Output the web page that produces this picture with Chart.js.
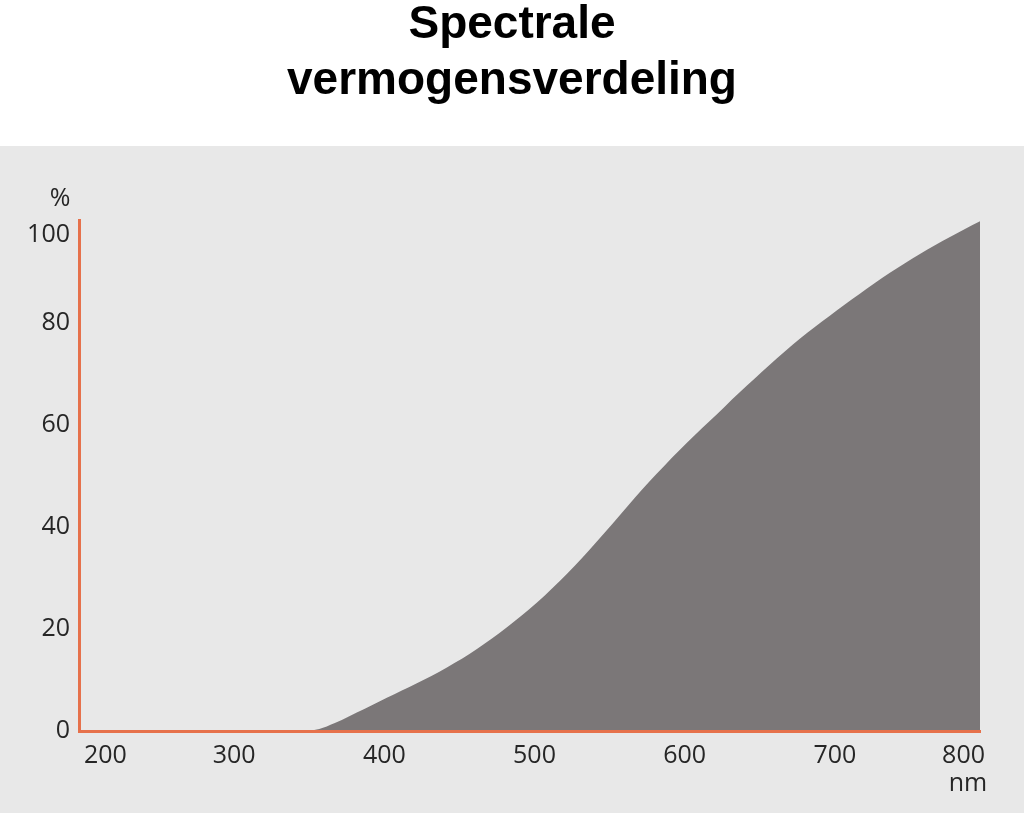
<!DOCTYPE html>
<html>
<head>
<meta charset="utf-8">
<script src="https://cdn.jsdelivr.net/npm/chart.js@4.4.1/dist/chart.umd.min.js"></script>
<style>
  html, body { margin: 0; padding: 0; background: #ffffff; }
  #wrap { width: 1024px; height: 813px; position: relative; }
</style>
</head>
<body>
<div id="wrap"><canvas id="c"></canvas></div>
<script>
// ---- data ----
const titleLines = ['Spectrale', 'vermogensverdeling'];
const wavelengths = [200, 350, 360, 370, 380, 390, 400, 410, 420, 430, 440, 450, 460, 470, 480, 490, 500,
  510, 520, 530, 540, 550, 560, 570, 580, 590, 600, 610, 620, 630, 640, 650, 660, 670, 680, 690, 700,
  710, 720, 730, 740, 750, 760, 770, 780, 790, 800];
const powerPercent = [0, 0, 0.4, 1.5, 2.9, 4.3, 5.8, 7.2, 8.6, 10.1, 11.6, 13.3, 15.1, 17.1, 19.2, 21.5, 23.9,
  26.5, 29.3, 32.3, 35.5, 38.8, 42.2, 45.6, 48.9, 52.0, 55.0, 57.9, 60.7, 63.5, 66.3, 69.0, 71.7, 74.3, 76.8, 79.1, 81.3,
  83.5, 85.6, 87.7, 89.7, 91.6, 93.4, 95.1, 96.7, 98.3, 99.8];
const xTicks = [200, 300, 400, 500, 600, 700, 800];
const yTicks = [0, 20, 40, 60, 80, 100];
const xUnit = 'nm';
const yUnit = '%';

const points = wavelengths.map((w, i) => ({ x: w, y: powerPercent[i] }));

const AXIS = '#e6714b';
const TEXT = '#262626';
const tickFont = { family: 'Open Sans', size: 25, weight: '400' };

const panelPlugin = {
  id: 'panel',
  beforeDraw(chart) {
    const { ctx, width, height } = chart;
    ctx.save();
    ctx.fillStyle = '#ffffff';
    ctx.fillRect(0, 0, width, height);
    ctx.fillStyle = '#e8e8e8';
    ctx.fillRect(0, 146, width, height - 146);
    ctx.restore();
  },
  afterDraw(chart) {
    const { ctx } = chart;
    const ys = chart.scales.y;
    const xs = chart.scales.x;
    ctx.save();
    ctx.fillStyle = TEXT;
    ctx.font = '400 25px "Open Sans"';
    ctx.textAlign = 'center';
    ctx.textBaseline = 'middle';
    ctx.fillText(yUnit, ys.right - 19, ys.top - 21);
    ctx.fillText(xUnit, xs.right - 12, xs.top + 53);
    ctx.restore();
  }
};

new Chart(document.getElementById('c'), {
  type: 'line',
  data: {
    datasets: [{
      data: points,
      borderWidth: 0,
      borderColor: 'rgba(0,0,0,0)',
      backgroundColor: '#7b7778',
      fill: 'origin',
      pointRadius: 0,
      cubicInterpolationMode: 'monotone'
    }]
  },
  options: {
    responsive: true,
    maintainAspectRatio: false,
    animation: false,
    layout: { padding: 0 },
    plugins: {
      legend: { display: false },
      tooltip: { enabled: false },
      title: {
        display: true,
        text: titleLines,
        color: '#000000',
        font: { family: 'Liberation Sans', size: 46, weight: 'bold', lineHeight: 1.22 },
        padding: { top: -3, bottom: 111 }
      }
    },
    scales: {
      x: {
        type: 'linear',
        min: 200,
        max: 800,
        afterBuildTicks(scale) { scale.ticks = xTicks.map(v => ({ value: v })); },
        afterFit(scale) { scale.height = 82; },
        grid: { display: false, drawTicks: false },
        border: { display: true, color: AXIS, width: 3, z: 1 },
        ticks: {
          color: TEXT,
          font: tickFont,
          padding: 10,
          align: 'inner',
          labelOffset: 5,
          maxRotation: 0,
          autoSkip: false,
          callback: (v) => String(v)
        }
      },
      y: {
        type: 'linear',
        min: 0,
        max: 100,
        afterBuildTicks(scale) { scale.ticks = yTicks.map(v => ({ value: v })); },
        afterFit(scale) { scale.width = 79; },
        grid: { display: false, drawTicks: false },
        border: { display: true, color: AXIS, width: 3, z: 1 },
        ticks: {
          color: TEXT,
          font: tickFont,
          padding: 9,
          autoSkip: false,
          // the top label sits just below the axis end in the reference
          callback: (v) => (v === yTicks[yTicks.length - 1] ? ['', String(v)] : String(v))
        }
      },
      yRightSpace: {
        type: 'linear',
        position: 'right',
        min: 0,
        max: 100,
        afterFit(scale) { scale.width = 44; },
        grid: { display: false, drawTicks: false },
        border: { display: false },
        ticks: { display: false }
      }
    }
  },
  plugins: [panelPlugin]
});
</script>
</body>
</html>
